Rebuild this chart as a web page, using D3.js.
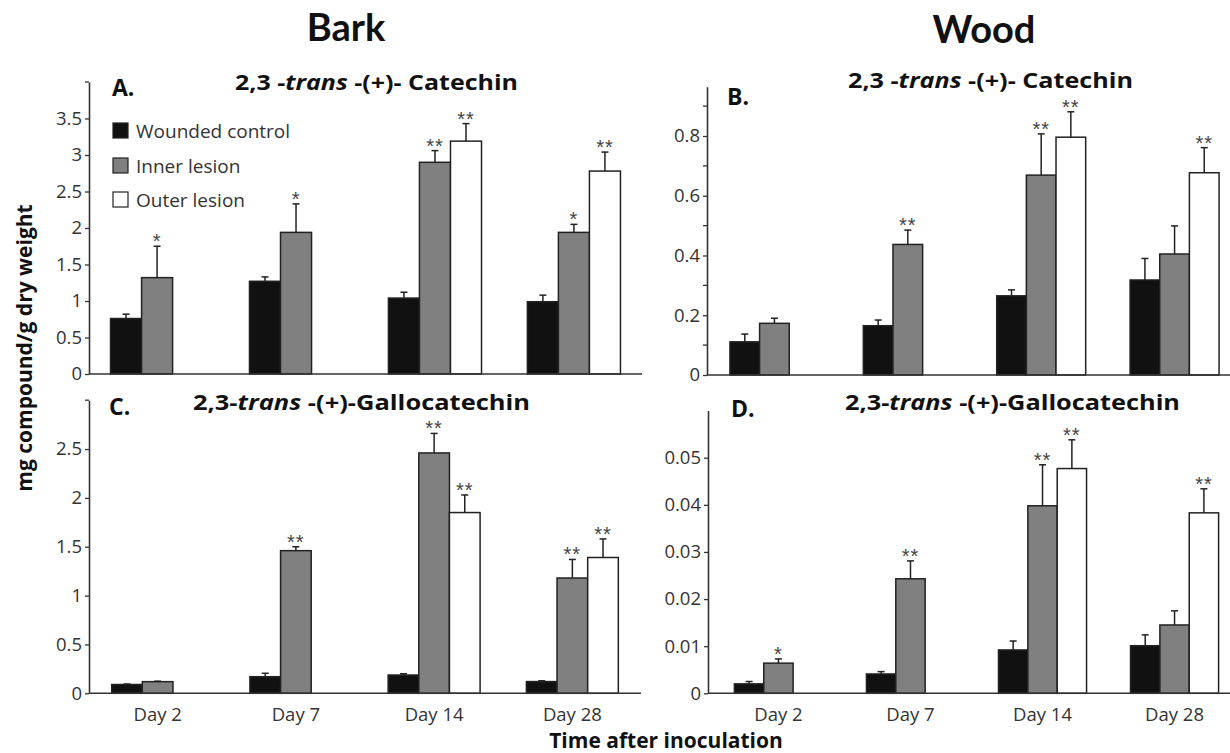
<!DOCTYPE html>
<html><head><meta charset="utf-8">
<script src="https://cdn.jsdelivr.net/npm/d3@7"></script>
<style>
html,body{margin:0;padding:0;background:#fff;}
svg{display:block;font-family:"Open Sans",Lato,sans-serif;}
</style></head>
<body><svg id="chart" width="1230" height="753"></svg>
<script>
// ---------- data ----------
const categories = ["Day 2", "Day 7", "Day 14", "Day 28"];
const seriesNames = ["Wounded control", "Inner lesion", "Outer lesion"];
const seriesColors = ["#111111", "#808080", "#ffffff"];

// A. Bark, 2,3-trans-(+)-Catechin
const barkCatControl = [0.76, 1.27, 1.04, 0.99];
const barkCatControlErr = [0.06, 0.06, 0.08, 0.09];
const barkCatInner = [1.32, 1.94, 2.90, 1.94];
const barkCatInnerErr = [0.43, 0.39, 0.16, 0.11];
const barkCatOuter = [null, null, 3.19, 2.78];
const barkCatOuterErr = [null, null, 0.24, 0.26];
const barkCatInnerSig = ["*", "*", "**", "*"];
const barkCatOuterSig = ["", "", "**", "**"];
const barkCatTicks = [0, 0.5, 1, 1.5, 2, 2.5, 3, 3.5];

// B. Wood, 2,3-trans-(+)-Catechin
const woodCatControl = [0.111, 0.165, 0.265, 0.318];
const woodCatControlErr = [0.026, 0.019, 0.020, 0.072];
const woodCatInner = [0.173, 0.437, 0.669, 0.405];
const woodCatInnerErr = [0.017, 0.048, 0.138, 0.094];
const woodCatOuter = [null, null, 0.796, 0.677];
const woodCatOuterErr = [null, null, 0.085, 0.084];
const woodCatInnerSig = ["", "**", "**", ""];
const woodCatOuterSig = ["", "", "**", "**"];
const woodCatTicks = [0, 0.2, 0.4, 0.6, 0.8];
const woodCatMinorTicks = [0.1, 0.3, 0.5, 0.7, 0.9];

// C. Bark, 2,3-trans-(+)-Gallocatechin
const barkGalControl = [0.09, 0.17, 0.187, 0.12];
const barkGalControlErr = [0.005, 0.035, 0.013, 0.008];
const barkGalInner = [0.119, 1.46, 2.46, 1.18];
const barkGalInnerErr = [0.005, 0.04, 0.20, 0.19];
const barkGalOuter = [null, null, 1.85, 1.39];
const barkGalOuterErr = [null, null, 0.18, 0.19];
const barkGalInnerSig = ["", "**", "**", "**"];
const barkGalOuterSig = ["", "", "**", "**"];
const barkGalTicks = [0, 0.5, 1, 1.5, 2, 2.5];

// D. Wood, 2,3-trans-(+)-Gallocatechin
const woodGalControl = [0.0020, 0.0041, 0.0092, 0.0101];
const woodGalControlErr = [0.0005, 0.0005, 0.0019, 0.0023];
const woodGalInner = [0.0064, 0.0243, 0.0398, 0.0145];
const woodGalInnerErr = [0.0009, 0.0038, 0.0087, 0.0030];
const woodGalOuter = [null, null, 0.0477, 0.0383];
const woodGalOuterErr = [null, null, 0.0061, 0.0051];
const woodGalInnerSig = ["*", "**", "**", ""];
const woodGalOuterSig = ["", "", "**", "**"];
const woodGalTicks = [0, 0.01, 0.02, 0.03, 0.04, 0.05];

// ---------- drawing ----------
const svg = d3.select("#chart");
const AXIS = "#333";
const STROKE = "#222";

function panel(cfg) {
  const g = svg.append("g");
  const x = d3.scaleBand().domain(categories).range(cfg.xRange)
    .paddingInner(cfg.pi).paddingOuter(cfg.po);
  const xs = d3.scaleBand().domain(seriesNames).range([0, x.bandwidth()]);
  const y = d3.scaleLinear().domain([0, cfg.yMax]).range(cfg.yRange);

  const vals = [cfg.control, cfg.inner, cfg.outer];
  const errs = [cfg.controlErr, cfg.innerErr, cfg.outerErr];
  const sigs = [categories.map(() => ""), cfg.innerSig, cfg.outerSig];

  const recs = [];
  categories.forEach((c, i) => {
    seriesNames.forEach((s, j) => {
      if (vals[j][i] != null) recs.push({c, s, j, v: vals[j][i], e: errs[j][i], sig: sigs[j][i]});
    });
  });

  // y axis
  const x0 = cfg.xRange[0];
  const ax = g.append("g").attr("transform", `translate(${x0},0)`)
    .call(d3.axisLeft(y).tickValues(cfg.ticks).tickSize(4).tickPadding(3).tickSizeOuter(0)
      .tickFormat(d => String(d)));
  ax.select(".domain").attr("stroke", AXIS).attr("stroke-width", 1.6);
  ax.selectAll(".tick line").attr("stroke", AXIS).attr("stroke-width", 1.3);
  ax.selectAll(".tick text").attr("fill", "#333").style("font-size", "18.5px")
    .style("font-family", "'Open Sans'");
  if (cfg.minor) {
    g.selectAll(".minor").data(cfg.minor).join("line")
      .attr("x1", x0 - 4).attr("x2", x0).attr("y1", d => y(d)).attr("y2", d => y(d))
      .attr("stroke", AXIS).attr("stroke-width", 1.3);
  }

  // bars
  g.selectAll(".bar").data(recs).join("rect")
    .attr("x", d => x(d.c) + xs(d.s))
    .attr("y", d => y(d.v))
    .attr("width", xs.bandwidth())
    .attr("height", d => y(0) - y(d.v))
    .attr("fill", d => seriesColors[d.j])
    .attr("stroke", STROKE).attr("stroke-width", 1.5);

  // error bars
  const cap = 3.5;
  const eg = g.selectAll(".err").data(recs).join("g");
  eg.append("line")
    .attr("x1", d => x(d.c) + xs(d.s) + xs.bandwidth() / 2)
    .attr("x2", d => x(d.c) + xs(d.s) + xs.bandwidth() / 2)
    .attr("y1", d => y(d.v)).attr("y2", d => y(d.v + d.e))
    .attr("stroke", STROKE).attr("stroke-width", 1.5);
  eg.append("line")
    .attr("x1", d => x(d.c) + xs(d.s) + xs.bandwidth() / 2 - cap)
    .attr("x2", d => x(d.c) + xs(d.s) + xs.bandwidth() / 2 + cap)
    .attr("y1", d => y(d.v + d.e)).attr("y2", d => y(d.v + d.e))
    .attr("stroke", STROKE).attr("stroke-width", 1.5);

  // significance stars
  g.selectAll(".sig").data(recs.filter(d => d.sig)).join("text")
    .attr("x", d => x(d.c) + xs(d.s) + xs.bandwidth() / 2)
    .attr("y", d => y(d.v + d.e) + 2)
    .attr("text-anchor", "middle")
    .attr("fill", "#444")
    .style("font-family", "'Liberation Sans', 'DejaVu Sans', sans-serif")
    .style("font-size", "20px").style("letter-spacing", "1px")
    .text(d => d.sig);

  // x baseline
  g.append("line").attr("x1", x0).attr("x2", cfg.xRange[1])
    .attr("y1", y(0)).attr("y2", y(0))
    .attr("stroke", AXIS).attr("stroke-width", 1.6);

  // x labels
  if (cfg.xLabels) {
    g.selectAll(".xl").data(categories).join("text")
      .attr("x", d => x(d) + x.bandwidth() / 2)
      .attr("y", cfg.xLabelY)
      .attr("text-anchor", "middle").attr("fill", "#333")
      .style("font-size", "18.5px").text(d => d);
  }

  // panel letter
  g.append("text").attr("x", cfg.letterX).attr("y", cfg.letterY)
    .style("font-size", "23px").style("font-weight", "bold").attr("fill", "#111")
    .text(cfg.letter);

  // panel title
  const t = g.append("text").attr("x", cfg.titleX).attr("y", cfg.titleY)
    .attr("textLength", cfg.titleW).attr("lengthAdjust", "spacingAndGlyphs")
    .style("font-size", "21px").style("font-weight", "bold").attr("fill", "#111");
  cfg.title.forEach(p => t.append("tspan").style("font-style", p.i ? "italic" : "normal").text(p.t));

  return {g, x, y};
}

const catTitle = [{t: "2,3 -"}, {t: "trans", i: true}, {t: " -(+)- Catechin"}];
const galTitle = [{t: "2,3-"}, {t: "trans", i: true}, {t: " -(+)-Gallocatechin"}];

panel({
  xRange: [89, 642], pi: 0.33, po: 0.155, yMax: 4, yRange: [374, 82],
  control: barkCatControl, controlErr: barkCatControlErr,
  inner: barkCatInner, innerErr: barkCatInnerErr,
  outer: barkCatOuter, outerErr: barkCatOuterErr,
  innerSig: barkCatInnerSig, outerSig: barkCatOuterSig,
  ticks: barkCatTicks, minor: [4],
  letter: "A.", letterX: 112, letterY: 96, title: catTitle, titleX: 235, titleY: 90, titleW: 283
});
panel({
  xRange: [707, 1242], pi: 0.333, po: 0.172, yMax: 0.965, yRange: [375, 86.7],
  control: woodCatControl, controlErr: woodCatControlErr,
  inner: woodCatInner, innerErr: woodCatInnerErr,
  outer: woodCatOuter, outerErr: woodCatOuterErr,
  innerSig: woodCatInnerSig, outerSig: woodCatOuterSig,
  ticks: woodCatTicks, minor: woodCatMinorTicks,
  letter: "B.", letterX: 727, letterY: 105, title: catTitle, titleX: 848, titleY: 88, titleW: 285
});
panel({
  xRange: [89, 641], pi: 0.335, po: 0.164, yMax: 3, yRange: [693.3, 400.2],
  control: barkGalControl, controlErr: barkGalControlErr,
  inner: barkGalInner, innerErr: barkGalInnerErr,
  outer: barkGalOuter, outerErr: barkGalOuterErr,
  innerSig: barkGalInnerSig, outerSig: barkGalOuterSig,
  ticks: barkGalTicks, minor: [3],
  letter: "C.", letterX: 109, letterY: 415, title: galTitle, titleX: 193, titleY: 410, titleW: 337,
  xLabels: true, xLabelY: 721
});
panel({
  xRange: [708, 1245], pi: 0.333, po: 0.2, yMax: 0.06, yRange: [693.3, 410.6],
  control: woodGalControl, controlErr: woodGalControlErr,
  inner: woodGalInner, innerErr: woodGalInnerErr,
  outer: woodGalOuter, outerErr: woodGalOuterErr,
  innerSig: woodGalInnerSig, outerSig: woodGalOuterSig,
  ticks: woodGalTicks,
  letter: "D.", letterX: 731, letterY: 417, title: galTitle, titleX: 845, titleY: 410, titleW: 335,
  xLabels: true, xLabelY: 721
});

// legend (inside panel A)
const lg = svg.append("g");
seriesNames.forEach((s, i) => {
  const cy = [131, 166, 200][i];
  lg.append("rect").attr("x", 113).attr("y", cy - 8).attr("width", 15).attr("height", 15)
    .attr("fill", seriesColors[i]).attr("stroke", STROKE).attr("stroke-width", 1.2);
  lg.append("text").attr("x", 136).attr("y", cy + 6.5).attr("fill", "#333")
    .style("font-size", "19px").text(s);
});

// headers
svg.append("text").attr("x", 346).attr("y", 41).attr("text-anchor", "middle")
  .style("font-family", "Lato").style("font-size", "38px").style("font-weight", "bold")
  .attr("fill", "#111").text("Bark");
svg.append("text").attr("x", 984).attr("y", 43).attr("text-anchor", "middle")
  .style("font-family", "Lato").style("font-size", "38px").style("font-weight", "bold")
  .attr("fill", "#111").text("Wood");

// axis titles
svg.append("text").attr("transform", "translate(32,348) rotate(-90)")
  .attr("text-anchor", "middle").style("font-size", "21px").style("font-weight", "bold")
  .attr("fill", "#111").text("mg compound/g dry weight");
svg.append("text").attr("x", 666).attr("y", 748).attr("text-anchor", "middle")
  .style("font-size", "21px").style("font-weight", "bold")
  .attr("fill", "#111").text("Time after inoculation");
</script></body></html>
